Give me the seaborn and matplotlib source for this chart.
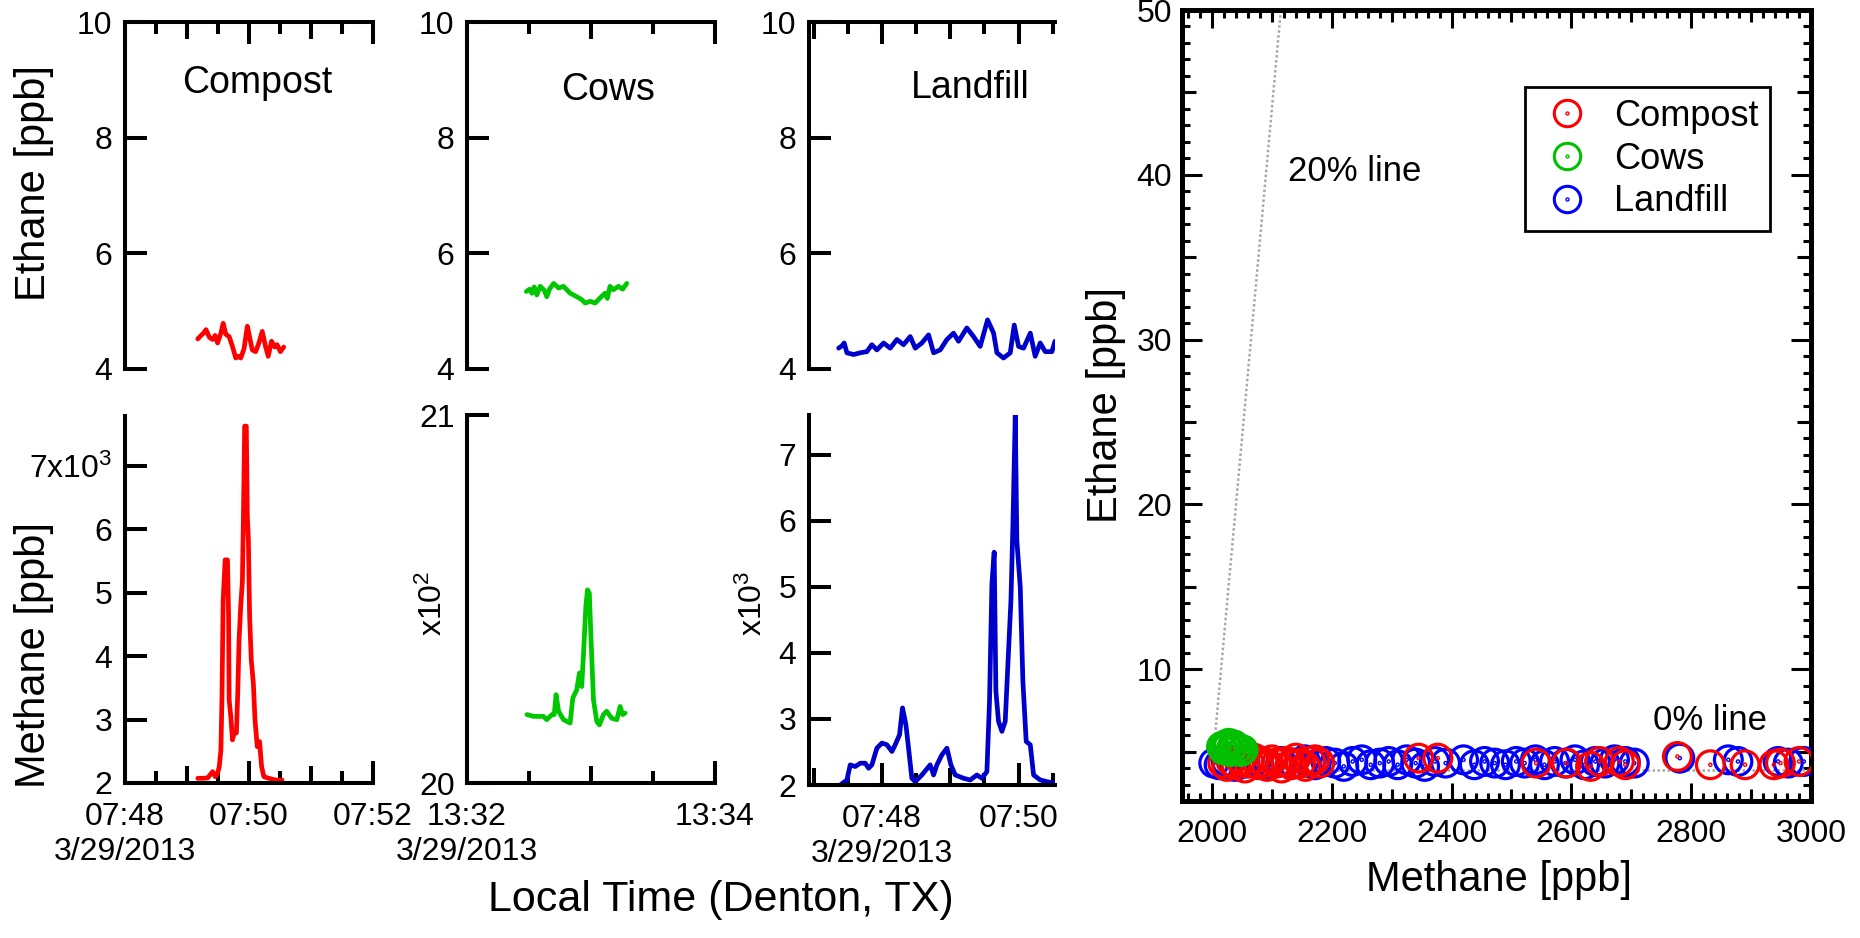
import numpy as np
import pandas as pd
import matplotlib
matplotlib.use("Agg")
import matplotlib.pyplot as plt
import seaborn as sns
from matplotlib.path import Path
from matplotlib.lines import Line2D
from matplotlib.ticker import FixedLocator, FixedFormatter, MultipleLocator, NullFormatter

# ---------------- data ----------------
# Time series: seconds after 07:48:00 (Compost, Landfill) or 13:32:00 (Cows)
compost_ch4_t = [70.4, 75.2, 80, 84.8, 87.4, 89.6, 91.2, 92.8, 93.8, 95.0, 96.9, 99.2, 100.2, 100.8,
                 102.4, 104, 105.6, 107.8, 109.1, 110.4, 112, 113.6, 114.6, 115.8, 117.4, 118.4,
                 119.4, 120.6, 122.2, 124.2, 125.8, 128, 130.2, 132.2, 134.4, 139.2, 145.6, 152]
compost_ch4 = [2074, 2074, 2080, 2179, 2100, 2153, 2258, 2521, 3311, 4890, 5520, 5520, 4680, 3311,
               3048, 2680, 2790, 2790, 3417, 4260, 4790, 5181, 6208, 7630, 7630, 6208,
               5840, 4628, 3943, 3575, 2995, 2574, 2653, 2258, 2100, 2074, 2047, 2047]
compost_c2h6_t = [70.4, 73.6, 76, 78.4, 81.6, 84.8, 87.2, 89.6, 92.8, 95.0, 97.6, 100.8, 104.0, 107.2,
                  110, 112.0, 115.2, 118.4, 120.6, 123.2, 126.4, 129.6, 132.8, 136.0, 138.6, 141.8,
                  145.0, 147.2, 150.4, 153.6]
compost_c2h6 = [4.52, 4.58, 4.62, 4.68, 4.55, 4.51, 4.58, 4.45, 4.62, 4.79, 4.60, 4.56, 4.39, 4.19,
                4.22, 4.19, 4.35, 4.74, 4.55, 4.33, 4.30, 4.45, 4.65, 4.39, 4.22, 4.48,
                4.38, 4.42, 4.30, 4.38]

cows_ch4_t = [29.0, 32.2, 37.0, 38.6, 41.1, 42.2, 43.1, 44.3, 46.7, 49.9, 51.2, 53.1, 54.4, 55.5,
              56.4, 57.5, 58.3, 59.2, 59.9, 61.2, 62.8, 64.1, 66.0, 67.6, 70.0, 72.5, 74.1, 75.3, 76.5]
cows_ch4 = [2018.6, 2018.1, 2018.1, 2017.2, 2018.6, 2018.6, 2024.0, 2019.5, 2017.2, 2016.3, 2023.1,
            2025.3, 2029.9, 2026.2, 2035.3, 2048.0, 2052.5, 2051.6, 2040.7, 2022.6, 2016.7, 2015.8,
            2018.6, 2019.5, 2017.6, 2017.2, 2020.8, 2018.6, 2019.0]
cows_c2h6_t = [28.7, 30.3, 31.4, 32.5, 33.8, 35.4, 37.4, 38.6, 39.9, 41.9, 44.3, 46.7, 49.9, 53.1,
               55.5, 57.2, 59.6, 62.0, 64.4, 66.8, 67.9, 69.2, 70.8, 73.3, 75.3, 77.3]
cows_c2h6 = [5.34, 5.38, 5.31, 5.42, 5.28, 5.43, 5.36, 5.25, 5.38, 5.48, 5.40, 5.43, 5.31, 5.25,
             5.20, 5.14, 5.17, 5.14, 5.23, 5.31, 5.22, 5.43, 5.37, 5.43, 5.38, 5.48]

landfill_ch4_t = [-36.6, -30.7, -27.8, -23.4, -19.0, -14.6, -11.7, -8.8, -4.4, 0, 4.4, 8.8, 11.7, 15.5,
                  18.1, 21.1, 23.4, 26.3, 29.3, 35.1, 42.4, 45.4, 48.3, 52.7, 57.1, 60.6, 64.4, 71.7,
                  77.6, 83.4, 87.8, 92.2, 94.5, 96.6, 98.6, 100.1, 102.4, 105.4, 108.3, 111.2, 113.3,
                  115.0, 117.1, 118.5, 121.5, 123.8, 126.7, 130.3, 133.2, 139.0, 144.9, 152.0]
landfill_ch4 = [2000, 2076, 2305, 2280, 2330, 2330, 2254, 2305, 2558, 2635, 2610, 2508, 2610, 2761,
                3168, 2914, 2560, 2102, 2051, 2152, 2305, 2152, 2305, 2457, 2558, 2305, 2152, 2102,
                2076, 2152, 2102, 2203, 3269, 5046, 5528, 3421, 2964, 2812, 2964, 4030, 4792,
                5909, 7609, 5706, 4995, 3574, 2660, 2609, 2152, 2076, 2051, 2025]
landfill_c2h6_t = [-38.0, -35.1, -33.1, -30.7, -24.9, -19.0, -13.2, -8.8, -4.4, 1.5, 7.3, 13.2, 19.0,
                   24.9, 29.3, 35.1, 41.0, 45.4, 51.2, 57.1, 62.9, 67.3, 74.6, 80.5, 86.3, 92.8, 98.1,
                   101.0, 106.8, 112.7, 116.2, 120.0, 124.4, 130.3, 134.6, 139.0, 143.4, 149.3, 152.0]
landfill_c2h6 = [4.36, 4.40, 4.45, 4.28, 4.25, 4.28, 4.30, 4.42, 4.33, 4.45, 4.36, 4.51, 4.42,
                 4.56, 4.36, 4.45, 4.59, 4.28, 4.33, 4.51, 4.62, 4.48, 4.71, 4.56, 4.39, 4.85, 4.62,
                 4.28, 4.19, 4.28, 4.76, 4.39, 4.36, 4.62, 4.22, 4.45, 4.30, 4.30, 4.48]

# Scatter (ethane vs methane)
compost_sc_ch4 = [2018, 2025, 2032, 2040, 2048, 2055, 2062, 2070, 2078, 2085, 2092, 2100, 2108, 2116,
                  2124, 2132, 2140, 2148, 2156, 2165, 2172, 2180, 2345, 2377, 2541, 2592, 2632, 2647,
                  2680, 2690, 2777, 2832, 2890, 2938, 2949, 2980]
compost_sc_c2h6 = [4.3, 4.1, 4.4, 4.2, 4.5, 4.0, 4.3, 4.6, 4.2, 4.4, 4.1, 4.5, 4.3, 4.0,
                   4.4, 4.2, 4.6, 4.3, 4.1, 4.4, 4.5, 4.3, 4.6, 4.6, 4.3, 4.3, 4.1, 4.4,
                   4.4, 4.2, 4.7, 4.2, 4.2, 4.2, 4.3, 4.4]
cows_sc_ch4 = [2016, 2019, 2022, 2025, 2028, 2031, 2034, 2037, 2040, 2044, 2048, 2052]
cows_sc_c2h6 = [5.3, 5.1, 5.4, 5.2, 5.5, 5.0, 5.3, 5.4, 5.1, 5.2, 5.0, 5.1]
landfill_sc_ch4 = [2003, 2012, 2024, 2038, 2055, 2075, 2095, 2115, 2135, 2155, 2172, 2190, 2205, 2220,
                   2235, 2250, 2265, 2280, 2295, 2310, 2325, 2340, 2355, 2372, 2390, 2420, 2438, 2455,
                   2472, 2490, 2508, 2522, 2540, 2555, 2572, 2590, 2606, 2622, 2640, 2656, 2672, 2690,
                   2705, 2781, 2862, 2878, 2945, 2962, 2988]
landfill_sc_c2h6 = [4.3, 4.2, 4.4, 4.1, 4.3, 4.5, 4.2, 4.4, 4.3, 4.5, 4.2, 4.4, 4.3, 4.1,
                    4.4, 4.5, 4.2, 4.3, 4.4, 4.2, 4.5, 4.3, 4.1, 4.4, 4.3, 4.5, 4.2, 4.4,
                    4.3, 4.2, 4.4, 4.3, 4.5, 4.2, 4.4, 4.3, 4.5, 4.2, 4.4, 4.3, 4.5, 4.4,
                    4.3, 4.6, 4.5, 4.4, 4.4, 4.3, 4.4]
line20_ch4 = [2000, 2115]
line20_c2h6 = [3.9, 50]
line0_ch4 = [2000, 3000]
line0_c2h6 = [3.9, 3.9]

source_names = ["Compost", "Cows", "Landfill"]
time_major_labels = {
    "Compost": ["07:48", "07:50", "07:52"],
    "Cows": ["13:32", "13:34"],
    "Landfill": ["07:48", "07:50"],
}
date_label = "3/29/2013"
ch4_tick_labels = {
    "Compost": ["2", "3", "4", "5", "6", "7x10$^{3}$"],
    "Cows": ["20", "21"],
    "Landfill": ["2", "3", "4", "5", "6", "7"],
}

# ---------------- style ----------------
W, H = 1860, 938
sns.set_theme(style="white")
plt.rcParams["font.family"] = ["Liberation Sans", "DejaVu Sans"]
plt.rcParams["mathtext.fontset"] = "custom"
plt.rcParams["mathtext.rm"] = "Liberation Sans"
plt.rcParams["mathtext.it"] = "Liberation Sans:italic"
plt.rcParams["text.color"] = "black"
plt.rcParams["xtick.color"] = "black"
plt.rcParams["ytick.color"] = "black"

RED, GREEN, BLUE = "#FF0000", "#00C800", "#0000CC"
SC_RED, SC_GREEN, SC_BLUE = "#FF0000", "#00C000", "#0000FF"
LW_AX = 2.9
TICK_FS = 23

fig = plt.figure(figsize=(W / 100, H / 100), dpi=100)


def px_axes(l, t, r, b):
    return fig.add_axes([l / W, 1 - b / H, (r - l) / W, (b - t) / H])


def ftext(x, y, s, **kw):
    fig.text(x / W, 1 - y / H, s, **kw)


def style_time_axis(ax, xlim, major, labels, medium, minor, top):
    ax.set_xlim(xlim)
    ax.xaxis.set_major_locator(FixedLocator(major))
    ax.xaxis.set_minor_locator(FixedLocator(minor))
    if top:
        ax.xaxis.tick_top()
        ax.xaxis.set_major_formatter(NullFormatter())
    else:
        ax.xaxis.tick_bottom()
        ax.xaxis.set_major_formatter(FixedFormatter(labels))
    ax.tick_params(axis="x", which="major", direction="in", length=16, width=LW_AX,
                   labelsize=TICK_FS, pad=14)
    ax.tick_params(axis="x", which="minor", direction="in", length=8.6, width=LW_AX)
    sec = ax.secondary_xaxis("top" if top else "bottom")
    sec.set_xticks(medium)
    sec.xaxis.set_major_formatter(NullFormatter())
    sec.tick_params(direction="in", length=12, width=LW_AX)
    for s in sec.spines.values():
        s.set_visible(False)
    for name, s in ax.spines.items():
        s.set_linewidth(LW_AX)
        s.set_color("black")
        s.set_visible(name == "left" or name == ("top" if top else "bottom"))
    ax.yaxis.tick_left()
    ax.tick_params(axis="y", which="major", direction="in", length=16, width=LW_AX,
                   labelsize=TICK_FS, pad=9)
    ax.set_xlabel("")
    ax.set_ylabel("")
    ax.set_facecolor("none")


# panel geometry (pixels) and time windows
layout = {
    "Compost": dict(lr=(125, 373), xlim=(0, 240), major=[0, 120, 240], medium=[60, 180],
                    minor=[30, 90, 150, 210], top_b=(22, 369), bot=(416, 783),
                    ylim=(2000, 7790), yt=[2000, 3000, 4000, 5000, 6000, 7000], color=RED),
    "Cows": dict(lr=(467, 715), xlim=(0, 120), major=[0, 120], medium=[60],
                 minor=[30, 90], top_b=(22, 369), bot=(415, 783),
                 ylim=(2000, 2100), yt=[2000, 2100], color=GREEN),
    "Landfill": dict(lr=(809, 1055), xlim=(-64, 152), major=[0, 120], medium=[-60, 60],
                     minor=[-30, 30, 90, 150], top_b=(22, 369), bot=(415, 785),
                     ylim=(2000, 7606), yt=[2000, 3000, 4000, 5000, 6000, 7000], color=BLUE),
}
series = {
    "Compost": (compost_c2h6_t, compost_c2h6, compost_ch4_t, compost_ch4),
    "Cows": (cows_c2h6_t, cows_c2h6, cows_ch4_t, cows_ch4),
    "Landfill": (landfill_c2h6_t, landfill_c2h6, landfill_ch4_t, landfill_ch4),
}

for name in source_names:
    L = layout[name]
    et, ev, mt, mv = series[name]
    # ethane (top)
    axt = px_axes(L["lr"][0], L["top_b"][0], L["lr"][1], L["top_b"][1])
    sns.lineplot(x=et, y=ev, ax=axt, color=L["color"], lw=3.4, estimator=None, sort=False)
    axt.set_ylim(4, 10)
    axt.yaxis.set_major_locator(FixedLocator([4, 6, 8, 10]))
    axt.yaxis.set_major_formatter(FixedFormatter(["4", "6", "8", "10"]))
    style_time_axis(axt, L["xlim"], L["major"], None, L["medium"], L["minor"], top=True)
    # methane (bottom)
    axb = px_axes(L["lr"][0], L["bot"][0], L["lr"][1], L["bot"][1])
    sns.lineplot(x=mt, y=mv, ax=axb, color=L["color"], lw=3.4, estimator=None, sort=False)
    axb.set_ylim(L["ylim"])
    axb.yaxis.set_major_locator(FixedLocator(L["yt"]))
    axb.yaxis.set_major_formatter(FixedFormatter(ch4_tick_labels[name]))
    style_time_axis(axb, L["xlim"], L["major"], time_major_labels[name], L["medium"],
                    L["minor"], top=False)
    # date line under the first time label
    axb.annotate(date_label, xy=(L["major"][0], 0), xycoords=("data", "axes fraction"),
                 xytext=(0, -49.5), textcoords="offset points", ha="center", va="center",
                 fontsize=TICK_FS, annotation_clip=False)

# panel titles and shared labels
ftext(257, 93, "Compost", fontsize=27, ha="center", va="baseline")
ftext(608, 100, "Cows", fontsize=27, ha="center", va="baseline")
ftext(970, 98, "Landfill", fontsize=27, ha="center", va="baseline")
ftext(34, 183, "Ethane [ppb]", fontsize=30, rotation=90, ha="center", va="center")
ftext(34, 655, "Methane [ppb]", fontsize=30, rotation=90, ha="center", va="center")
ftext(433, 603, "x10$^{2}$", fontsize=TICK_FS, rotation=90, ha="center", va="center")
ftext(753, 603, "x10$^{3}$", fontsize=TICK_FS, rotation=90, ha="center", va="center")
ftext(721, 900, "Local Time (Denton, TX)", fontsize=31, ha="center", va="center")

# ---------------- scatter ----------------
ax5 = px_axes(1182, 10, 1811, 801)
ax5.set_facecolor("white")
sns.lineplot(x=line20_ch4, y=line20_c2h6, ax=ax5, color="#A8A8A8", lw=1.8,
             linestyle=(0, (1, 1)), estimator=None, sort=False, zorder=1)
sns.lineplot(x=line0_ch4, y=line0_c2h6, ax=ax5, color="#A8A8A8", lw=1.8,
             linestyle=(0, (1, 1)), estimator=None, sort=False, zorder=1)

dotcircle = Path.make_compound_path(Path.unit_circle(), Path.circle((0, 0), 0.05))
sc_series = [("Landfill", landfill_sc_ch4, landfill_sc_c2h6, SC_BLUE),
             ("Compost", compost_sc_ch4, compost_sc_c2h6, SC_RED),
             ("Cows", cows_sc_ch4, cows_sc_c2h6, SC_GREEN)]
for i, (nm, xs, ys, c) in enumerate(sc_series):
    sns.scatterplot(x=xs, y=ys, ax=ax5, marker=dotcircle, s=400, color=c,
                    facecolor="none", edgecolor=c, linewidth=2.3, zorder=3 + i)

ax5.set_xlim(1950, 3000)
ax5.set_ylim(2, 50)
ax5.xaxis.set_major_locator(MultipleLocator(200))
ax5.xaxis.set_minor_locator(MultipleLocator(20))
ax5.yaxis.set_major_locator(FixedLocator([10, 20, 30, 40, 50]))
ax5.yaxis.set_minor_locator(MultipleLocator(1))
ax5.tick_params(axis="both", which="both", direction="in", top=True, right=True,
                bottom=True, left=True, width=2.2)
ax5.tick_params(axis="x", which="major", length=13, labelsize=TICK_FS, pad=13)
ax5.tick_params(axis="y", which="major", length=14.4, labelsize=TICK_FS, pad=7)
ax5.tick_params(axis="both", which="minor", length=6)
for loc in ["top", "bottom"]:
    sec = ax5.secondary_xaxis(loc)
    sec.set_xticks([2100, 2300, 2500, 2700, 2900])
    sec.xaxis.set_major_formatter(NullFormatter())
    sec.tick_params(direction="in", length=8.6, width=2.2)
    for s in sec.spines.values():
        s.set_visible(False)
for loc in ["left", "right"]:
    sec = ax5.secondary_yaxis(loc)
    sec.set_yticks([5, 15, 25, 35, 45])
    sec.yaxis.set_major_formatter(NullFormatter())
    sec.tick_params(direction="in", length=10, width=2.2)
    for s in sec.spines.values():
        s.set_visible(False)
for s in ax5.spines.values():
    s.set_visible(True)
    s.set_linewidth(3.6)
    s.set_color("black")
ax5.set_xlabel("")
ax5.set_ylabel("")

ax5.text(2239, 40.2, "20% line", fontsize=25, ha="center", va="center")
ax5.text(2831, 6.9, "0% line", fontsize=25, ha="center", va="center")
ftext(1106, 405, "Ethane [ppb]", fontsize=30, rotation=90, ha="center", va="center")
ftext(1499, 880, "Methane [ppb]", fontsize=30, ha="center", va="center")

leg_colors = {"Compost": SC_RED, "Cows": SC_GREEN, "Landfill": SC_BLUE}
handles = [Line2D([], [], marker=dotcircle, markersize=19, mfc="none", mec=leg_colors[n],
                  mew=2.2, linestyle="none") for n in source_names]
leg = ax5.legend(handles, source_names, loc="upper left",
                 bbox_to_anchor=(1525 / W, 1 - 87 / H), bbox_transform=fig.transFigure,
                 borderaxespad=0, frameon=True, fancybox=False, fontsize=26,
                 handlelength=1.7, handletextpad=0.45, labelspacing=0.22, borderpad=0.32)
leg.get_frame().set_edgecolor("black")
leg.get_frame().set_linewidth(2.0)
leg.get_frame().set_alpha(1)

fig.savefig("out.png", dpi=100)
